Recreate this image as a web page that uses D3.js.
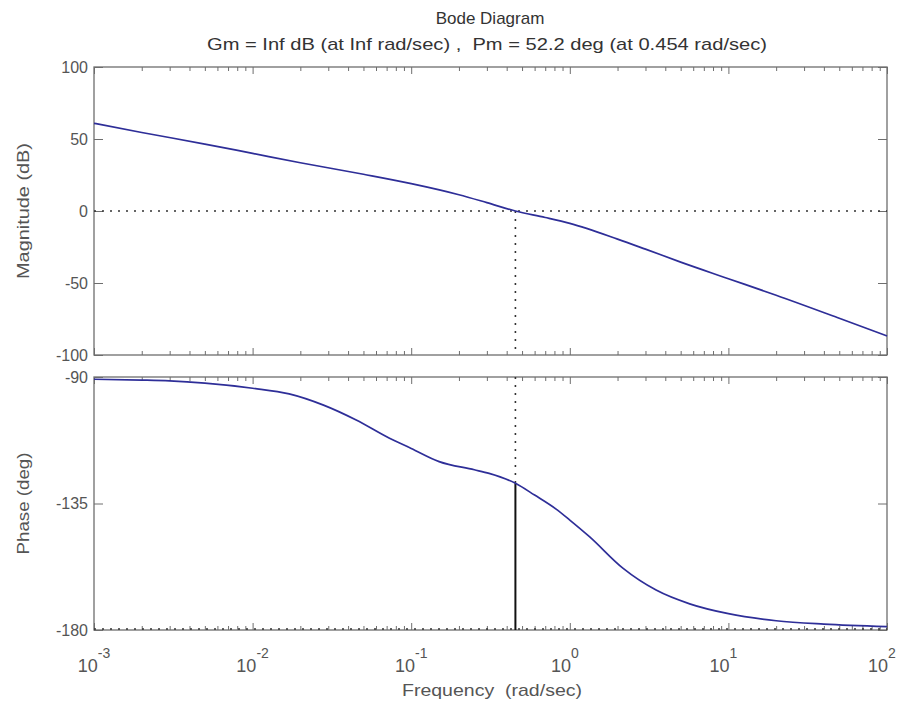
<!DOCTYPE html>
<html>
<head>
<meta charset="utf-8">
<script src="https://cdn.jsdelivr.net/npm/d3@7"></script>
<style>
  body { margin: 0; background: #fff; }
  svg { display: block; font-family: "Liberation Sans", Arial, sans-serif; }
</style>
</head>
<body>
<div id="chart"></div>
<script>
// magnitude samples (rad/sec, dB)
const magFreq = [0.001, 0.002, 0.005, 0.01, 0.02, 0.05, 0.1, 0.2, 0.3, 0.454, 0.7, 1, 2, 3, 5, 10, 20, 50, 100];
const magDb = [60.9, 54.5, 46.5, 40.0, 33.5, 25.5, 19.0, 11.3, 5.8, 0, -4.5, -8.6, -19.5, -26.5, -35.5, -47, -58.5, -74.5, -86.8];

// phase samples (rad/sec, deg)
const phFreq = [0.001, 0.002, 0.003, 0.005, 0.01, 0.017, 0.028, 0.045, 0.073, 0.1, 0.15, 0.25, 0.31, 0.454, 0.6, 0.82, 1, 1.33, 2.16, 3.5, 5.7, 10, 20, 40, 100];
const phDeg = [-90.8, -91.1, -91.4, -92.2, -94, -96, -100, -105.3, -111.8, -115.4, -120.1, -123, -124.3, -127.8, -132, -137, -140.9, -146.8, -158, -165.8, -170.7, -174.2, -176.7, -177.9, -178.8];

const magTicks = [-100, -50, 0, 50, 100];
const phTicks = [-180, -135, -90];
const decades = [-3, -2, -1, 0, 1, 2];

const wc = 0.454;       // gain crossover
const pmPhase = -127.8; // phase at crossover

const W = 904, H = 701;
const left = 94, right = 887;
const magTop = 67, magBot = 355;
const phTop = 377, phBot = 630;

const axisCol = "#6e6e6e";
const textCol = "#555";
const curveCol = "#2e2e98";

const svg = d3.select("#chart").append("svg")
  .attr("width", W)
  .attr("height", H);

const x = d3.scaleLog().domain([1e-3, 1e2]).range([left, right]);
const yMag = d3.scaleLinear().domain([-100, 100]).range([magBot, magTop]);
const yPh = d3.scaleLinear().domain([-180, -90]).range([phBot, phTop]);

// all log ticks 1..9 per decade
const xTicks = [];
decades.slice(0, -1).forEach(e => {
  for (let k = 1; k < 10; k++) xTicks.push(k * Math.pow(10, e));
});
xTicks.push(100);
const isMajor = d => Math.abs(Math.log10(d) - Math.round(Math.log10(d))) < 1e-9;

function styleAxis(g) {
  g.select(".domain").remove();
  g.selectAll(".tick line").attr("stroke", axisCol).attr("stroke-width", 1);
  g.selectAll(".tick text").remove();
}

function panel(y, top, bot, ticks) {
  // x ticks on bottom and top, inward
  svg.append("g")
    .attr("transform", `translate(0,${bot})`)
    .call(d3.axisBottom(x).tickValues(xTicks).tickSize(-4).tickFormat(""))
    .call(styleAxis)
    .selectAll(".tick line").attr("y2", d => isMajor(d) ? -7 : -4);

  svg.append("g")
    .attr("transform", `translate(0,${top})`)
    .call(d3.axisTop(x).tickValues(xTicks).tickSize(-4).tickFormat(""))
    .call(styleAxis)
    .selectAll(".tick line").attr("y2", d => isMajor(d) ? 7 : 4);

  // y ticks left and right, inward
  svg.append("g")
    .attr("transform", `translate(${left},0)`)
    .call(d3.axisLeft(y).tickValues(ticks).tickSize(-9).tickFormat(""))
    .call(styleAxis);

  svg.append("g")
    .attr("transform", `translate(${right},0)`)
    .call(d3.axisRight(y).tickValues(ticks).tickSize(-9).tickFormat(""))
    .call(styleAxis);

  // y labels
  svg.append("g").selectAll("text")
    .data(ticks)
    .enter().append("text")
    .attr("x", left - 6)
    .attr("y", d => y(d))
    .attr("dy", "0.36em")
    .attr("text-anchor", "end")
    .style("font-size", "16px")
    .style("fill", textCol)
    .text(d => d);

  // frame
  svg.append("rect")
    .attr("x", left)
    .attr("y", top)
    .attr("width", right - left)
    .attr("height", bot - top)
    .attr("fill", "none")
    .attr("stroke", axisCol)
    .attr("stroke-width", 1.3);
}

panel(yMag, magTop, magBot, magTicks);
panel(yPh, phTop, phBot, phTicks);

// dotted reference lines
const dots = "2,6";
svg.append("line")
  .attr("x1", left).attr("x2", right)
  .attr("y1", yMag(0)).attr("y2", yMag(0))
  .attr("stroke", "#333").attr("stroke-width", 1.6)
  .attr("stroke-dasharray", dots);

svg.append("line")
  .attr("x1", left).attr("x2", right)
  .attr("y1", yPh(-180) - 1).attr("y2", yPh(-180) - 1)
  .attr("stroke", "#333").attr("stroke-width", 1.6)
  .attr("stroke-dasharray", dots);

svg.append("line")
  .attr("x1", x(wc)).attr("x2", x(wc))
  .attr("y1", yMag(0)).attr("y2", magBot)
  .attr("stroke", "#333").attr("stroke-width", 1.6)
  .attr("stroke-dasharray", dots);

svg.append("line")
  .attr("x1", x(wc)).attr("x2", x(wc))
  .attr("y1", phTop).attr("y2", yPh(pmPhase))
  .attr("stroke", "#333").attr("stroke-width", 1.6)
  .attr("stroke-dasharray", dots);

// phase margin marker
svg.append("line")
  .attr("x1", x(wc)).attr("x2", x(wc))
  .attr("y1", yPh(pmPhase)).attr("y2", yPh(-180))
  .attr("stroke", "#111").attr("stroke-width", 2);

// curves
const magData = magFreq.map((f, i) => ({ f, v: magDb[i] }));
const phData = phFreq.map((f, i) => ({ f, v: phDeg[i] }));

svg.append("path")
  .datum(magData)
  .attr("fill", "none")
  .attr("stroke", curveCol)
  .attr("stroke-width", 1.7)
  .attr("d", d3.line().curve(d3.curveMonotoneX).x(d => x(d.f)).y(d => yMag(d.v)));

svg.append("path")
  .datum(phData)
  .attr("fill", "none")
  .attr("stroke", curveCol)
  .attr("stroke-width", 1.7)
  .attr("d", d3.line().curve(d3.curveMonotoneX).x(d => x(d.f)).y(d => yPh(d.v)));

// x tick labels as 10^n
const xl = svg.append("g").selectAll("text")
  .data(decades)
  .enter().append("text")
  .attr("x", d => x(Math.pow(10, d)) - (d >= 0 ? 5 : 0))
  .attr("y", 672)
  .attr("text-anchor", "middle")
  .style("font-size", "18px")
  .style("fill", textCol);
xl.append("tspan").text("10");
xl.append("tspan")
  .attr("dy", -14)
  .style("font-size", "14px")
  .text(d => d < 0 ? "-" + (-d) : d);

// titles
svg.append("text")
  .attr("x", 490).attr("y", 24)
  .attr("text-anchor", "middle")
  .style("font-size", "17px")
  .style("fill", "#333")
  .text("Bode Diagram");

svg.append("text")
  .attr("x", 487).attr("y", 50)
  .attr("text-anchor", "middle")
  .style("font-size", "17px")
  .style("fill", "#333")
  .attr("textLength", 560)
  .attr("lengthAdjust", "spacingAndGlyphs")
  .attr("xml:space", "preserve")
  .text("Gm = Inf dB (at Inf rad/sec) ,  Pm = 52.2 deg (at 0.454 rad/sec)");

svg.append("text")
  .attr("x", 492).attr("y", 696)
  .attr("text-anchor", "middle")
  .style("font-size", "17px")
  .style("fill", textCol)
  .attr("textLength", 180)
  .attr("lengthAdjust", "spacingAndGlyphs")
  .attr("xml:space", "preserve")
  .text("Frequency  (rad/sec)");

svg.append("text")
  .attr("transform", `translate(29,${(magTop + magBot) / 2}) rotate(-90)`)
  .attr("text-anchor", "middle")
  .style("font-size", "17px")
  .style("fill", textCol)
  .attr("textLength", 136)
  .attr("lengthAdjust", "spacingAndGlyphs")
  .text("Magnitude (dB)");

svg.append("text")
  .attr("transform", `translate(29,${(phTop + phBot) / 2}) rotate(-90)`)
  .attr("text-anchor", "middle")
  .style("font-size", "17px")
  .style("fill", textCol)
  .attr("textLength", 102)
  .attr("lengthAdjust", "spacingAndGlyphs")
  .text("Phase (deg)");
</script>
</body>
</html>
